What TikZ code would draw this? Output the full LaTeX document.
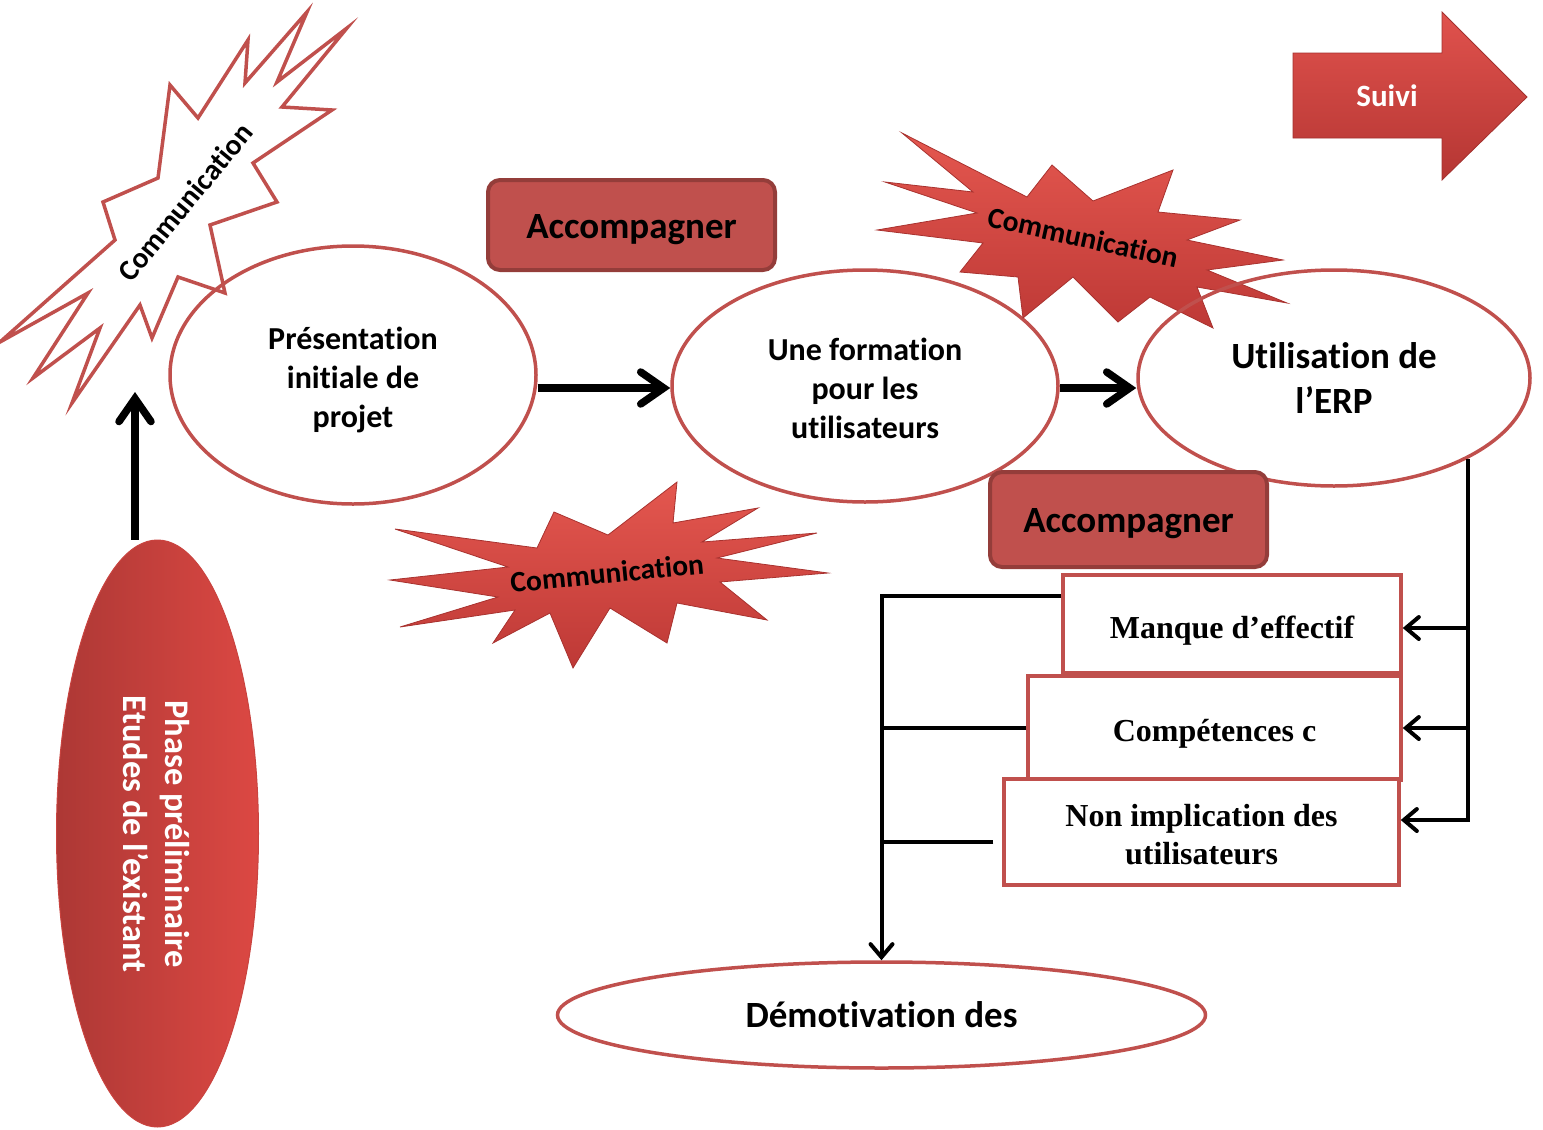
\documentclass[tikz,border=0pt]{standalone}
\usepackage{fontspec}
\setmainfont{Carlito}[Ligatures=NoCommon]
\newfontfamily\serifbold{Liberation Serif}
\usetikzlibrary{arrows.meta,shapes.geometric}

\definecolor{accent}{HTML}{C0504D}
\definecolor{accentdark}{HTML}{943D3A}
\definecolor{burstlight}{HTML}{E4574F}
\definecolor{burstdark}{HTML}{BE3936}
\definecolor{burstedge}{HTML}{A8322F}
\definecolor{arrowlight}{HTML}{E0524D}
\definecolor{arrowdark}{HTML}{B53633}
\definecolor{arrowedge}{HTML}{A3312E}
\definecolor{phaseleft}{HTML}{AD3835}
\definecolor{phaseright}{HTML}{DC4843}
\definecolor{phaseedge}{HTML}{C9433F}

% invisible strut that sets the height of a node's first line
\newcommand\padtop[1]{\rule{0pt}{#1}}

\begin{document}
\begin{tikzpicture}[x=1pt,y=-1pt,
  oval/.style={ellipse, draw=accent, line width=3.5pt, align=center, inner sep=0pt,
    font=\bfseries\fontsize{32}{39}\selectfont},
  bigoval/.style={oval, font=\bfseries\fontsize{37}{45}\selectfont},
  accbox/.style={rectangle, rounded corners=12pt, fill=accent, draw=accentdark,
    line width=4pt, font=\bfseries\fontsize{37}{45}\selectfont},
  causebox/.style={rectangle, draw=accent, fill=white, line width=3.5pt, align=center,
    font=\serifbold\bfseries\fontsize{32}{38}\selectfont},
  burst/.style={top color=burstlight, bottom color=burstdark, draw=burstedge, line width=0.8pt},
  burstlabel/.style={font=\bfseries\fontsize{29.5}{34}\selectfont, inner sep=0pt},
  flow/.style={line width=7.5pt, -{Straight Barb[length=23pt, width=32pt, line cap=round]}},
  link/.style={line width=4pt},
  linkarrow/.style={link, -{Straight Barb[length=13pt, width=22pt, line cap=round]}}
]
\useasboundingbox (0,0) rectangle (1543,1130);

% outlined burst on the upper left
\draw[accent, line width=3.5pt, fill=white, line join=miter]
  (307,12) -- (277,82) -- (347,28) -- (282,107) -- (332,110) -- (253,163) --
  (277,202) -- (210,225) -- (225,293) -- (178,277) -- (152,338) -- (140,305) --
  (72,403) -- (100,328) -- (33,378) -- (88,293) -- (0,342) -- (115,240) --
  (103,202) -- (158,178) -- (170,85) -- (198,118) -- (248,40) -- (245,83) -- cycle;
\node[burstlabel, rotate=50.5] (commA) at (185,202) {Communication};

% main phases
\node[oval, minimum width=366pt, minimum height=258pt] (pres) at (353,375)
  {\padtop{33pt}Présentation\\initiale de\\projet};
\node[oval, minimum width=386pt, minimum height=232pt] (form) at (865,386)
  {\padtop{27pt}Une formation\\pour les\\utilisateurs};

% filled burst above the training phase
\shade[burst]
  (902,133) -- (1027,197) -- (1052,165) -- (1093,201) -- (1173,170) -- (1158,212) --
  (1240,220) -- (1187,240) -- (1283,260) -- (1207,270) -- (1287,303) -- (1197,287) --
  (1213,328) -- (1150,297) -- (1118,322) -- (1073,277) -- (1023,318) -- (1018,277) --
  (960,272) -- (983,243) -- (877,230) -- (977,213) -- (885,182) -- (973,192) -- cycle;
\node[burstlabel, rotate=-12.5] (commB) at (1083,237) {Communication};

\node[bigoval, minimum width=392pt, minimum height=216pt] (util) at (1334,378)
  {Utilisation de\\l’ERP};

% filled burst below the first phases
\shade[burst]
  (395,529) -- (537,548) -- (554,512) -- (608,535) -- (677,482) -- (673,523) --
  (758,508) -- (702,542) -- (817,533) -- (717,558) -- (828,573) -- (720,582) --
  (767,620) -- (677,603) -- (667,643) -- (610,608) -- (573,668) -- (550,613) --
  (493,643) -- (515,610) -- (400,627) -- (498,597) -- (390,580) -- (508,567) -- cycle;
\node[burstlabel, rotate=5.5] (commC) at (607,573) {Communication};

% support labels
\node[accbox, minimum width=287pt, minimum height=90pt] (accA) at (631.5,225)
  {\padtop{33pt}Accompagner};
\node[accbox, minimum width=277pt, minimum height=95pt] (accB) at (1128.5,519.5)
  {\padtop{33pt}Accompagner};

% follow-up arrow
\shade[top color=arrowlight, bottom color=arrowdark, draw=arrowedge, line width=0.8pt]
  (1293,53) -- (1442,53) -- (1442,12) -- (1527,97) -- (1442,180) -- (1442,138) --
  (1293,138) -- cycle;
\node[text=white, font=\bfseries\fontsize{31}{36}\selectfont] (suivi) at (1387,96) {Suivi};

% preliminary phase
\node[ellipse, minimum width=202pt, minimum height=587pt, inner sep=0pt,
  left color=phaseleft, right color=phaseright, draw=phaseedge, line width=1pt] (phase) at (157.5,833.5) {};
\node[rotate=-90, text=white, align=center, font=\bfseries\fontsize{34.5}{42}\selectfont]
  (phasetxt) at (156,834) {Phase préliminaire\\Etudes de l’existant};

% causes
\node[causebox, minimum width=338pt, minimum height=98pt] (manque) at (1232,624)
  {\padtop{36pt}Manque d’effectif};
\node[causebox, minimum width=373pt, minimum height=104pt] (comp) at (1214.5,728)
  {\padtop{34pt}Compétences c};
\node[causebox, minimum width=395pt, minimum height=106pt] (nonimp) at (1201.5,832)
  {\padtop{28pt}Non implication des\\utilisateurs};

\node[oval, minimum width=648pt, minimum height=106pt, font=\bfseries\fontsize{37}{45}\selectfont]
  (demot) at (881.5,1015) {Démotivation des};

% main flow
\coordinate (uptip) at (135,392);
\draw[flow] (phase.north -| uptip) -- (uptip);
\draw[flow] ([yshift=-2pt]pres.east |- form.west) -- ([yshift=-2pt]form.west);
\draw[flow] ([yshift=-2pt]form.east) -- ([yshift=-2pt]form.east -| util.west);

% fan-out from the ERP phase to the causes
\coordinate (fan) at (util.-31);
\draw[linkarrow] (fan) |- ([yshift=12pt]nonimp.east);
\draw[linkarrow] (fan |- manque.east) ++(0,4) -- ([yshift=-4pt]manque.east);
\draw[linkarrow] (fan |- comp.east) -- (comp.east);

% causes converge on demotivation
\draw[linkarrow] ([yshift=28pt]manque.west) -| (demot.north);
\draw[link] (comp.west) -- (comp.west -| demot.north);
\draw[link] ([xshift=-9pt,yshift=-10pt]nonimp.west) -- ([yshift=-10pt]nonimp.west -| demot.north);
\end{tikzpicture}
\end{document}
